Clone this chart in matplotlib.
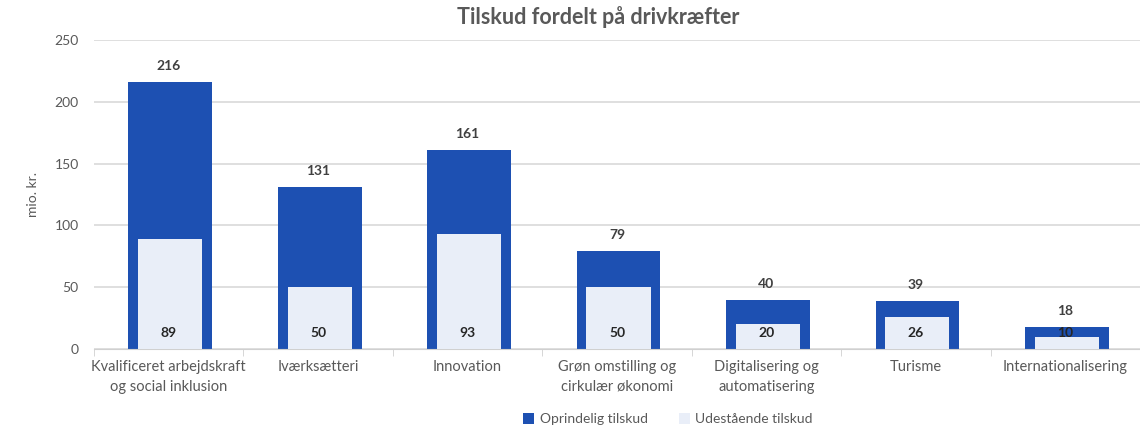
import matplotlib.pyplot as plt
import numpy as np

categories = ['Kvalificeret arbejdskraft\nog social inklusion', 'Iværksætteri', 'Innovation',
              'Grøn omstilling og\ncirkulær økonomi', 'Digitalisering og\nautomatisering',
              'Turisme', 'Internationalisering']
oprindelig = [216, 131, 161, 79, 40, 39, 18]
udestaaende = [89, 50, 93, 50, 20, 26, 10]
yticks = [0, 50, 100, 150, 200, 250]

blue = '#1D50B2'
light = '#E9EEF8'
txt = '#595959'

plt.rcParams['font.family'] = ['Lato', 'DejaVu Sans']

fig = plt.figure(figsize=(11.4, 4.29), dpi=100)
ax = fig.add_axes([0.0825, 0.1865, 0.9175, 0.7205])

x = np.arange(len(categories))
ax.bar(x + 0.01, oprindelig, width=0.56, color=blue, label='Oprindelig tilskud', zorder=2)
ax.bar(x + 0.01, udestaaende, width=0.43, color=light, label='Udestående tilskud', zorder=3)

for xi, v in zip(x, oprindelig):
    ax.text(xi, v + 8, str(v), ha='center', va='bottom', fontsize=10,
            fontweight='bold', color='#404040')
for xi, v in zip(x, udestaaende):
    ax.text(xi, 13, str(v), ha='center', va='center', fontsize=10,
            fontweight='bold', color='#262626', zorder=4)

ax.set_xlim(-0.5, len(categories) - 0.5)
ax.set_ylim(0, 250)
ax.set_yticks(yticks)
ax.set_xticks(x)
ax.set_xticklabels(categories, fontsize=10.5, color=txt, linespacing=1.5)
ax.tick_params(axis='x', length=0, pad=8)
ax.set_xticks(np.arange(-0.5, len(categories)), minor=True)
ax.tick_params(axis='x', which='minor', length=5, color='#d0d0d0')
ax.tick_params(axis='y', length=0, labelsize=10, labelcolor=txt, pad=11)
ax.grid(axis='y', color='#d9d9d9', linewidth=1.2, zorder=0)
ax.set_axisbelow(True)
for s in ['top', 'right', 'left']:
    ax.spines[s].set_visible(False)
ax.spines['bottom'].set_color('#d0d0d0')

ax.set_ylabel('mio. kr.', fontsize=10, color=txt, labelpad=11)
fig.suptitle('Tilskud fordelt på drivkræfter', x=0.525, y=0.985, fontsize=15.5,
             fontweight='bold', color=txt)

fig.legend(loc='lower center', bbox_to_anchor=(0.586, -0.02), ncol=2, frameon=False,
           fontsize=10, handlelength=0.8, handleheight=0.9, columnspacing=2.2,
           handletextpad=0.4, labelcolor=txt)

fig.savefig('out.png', dpi=100)
